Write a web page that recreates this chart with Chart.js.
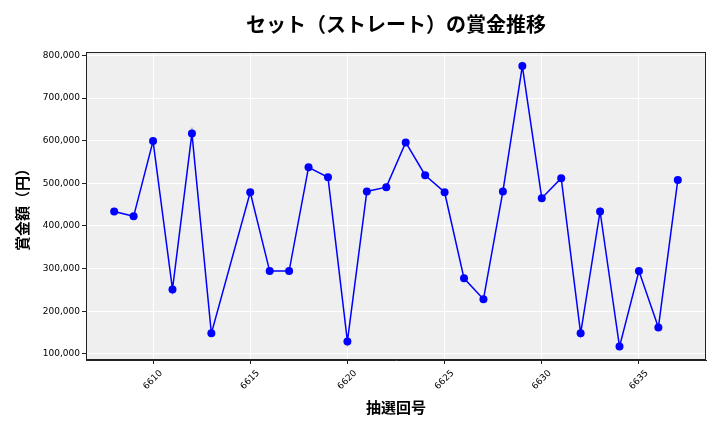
<!DOCTYPE html>
<html>
<head>
<meta charset="utf-8">
<script src="https://cdn.jsdelivr.net/npm/chart.js@4/dist/chart.umd.min.js"></script>
<style>
    html, body { margin: 0; padding: 0; background: #fff; }
    #wrap { width: 720px; height: 432px; }
</style>
</head>
<body>
<div id="wrap"><canvas id="prizeChart" width="720" height="432"></canvas></div>
<script>
// draw numbers (6614 is missing in the source)
var draws = [6608, 6609, 6610, 6611, 6612, 6613, 6615, 6616, 6617, 6618,
             6619, 6620, 6621, 6622, 6623, 6624, 6625, 6626, 6627, 6628,
             6629, 6630, 6631, 6632, 6633, 6634, 6635, 6636, 6637];
// prize per draw, yen
var prizes = [434000, 422500, 599000, 251000, 617000, 148000, 479000, 294000, 294000, 537500,
              514000, 129000, 481000, 491000, 596000, 519000, 479000, 277000, 228000, 481000,
              775000, 465000, 512000, 148000, 434000, 117000, 294000, 162000, 508000];
var xTickValues = [6610, 6615, 6620, 6625, 6630, 6635];
var yTickValues = [100000, 200000, 300000, 400000, 500000, 600000, 700000, 800000];

var tickFont = {family: "DejaVu Sans", size: 9};
var labelFont = {family: "Noto Sans CJK JP", size: 15, weight: "bold"};

var points = [];
for (var i = 0; i < draws.length; i++) {
    points.push({x: draws[i], y: prizes[i]});
}

function setTicks(values) {
    return function (scale) {
        scale.ticks = values.map(function (v) { return {value: v}; });
    };
}

// grey plot background and black frame like matplotlib
var plotFrame = {
    id: 'plotFrame',
    beforeDraw: function (chart) {
        var a = chart.chartArea;
        var ctx = chart.ctx;
        ctx.save();
        ctx.fillStyle = "#efefef";
        ctx.fillRect(a.left, a.top, a.right - a.left, a.bottom - a.top);
        ctx.restore();
    },
    afterDraw: function (chart) {
        var a = chart.chartArea;
        var ctx = chart.ctx;
        ctx.save();
        ctx.strokeStyle = "#222";
        ctx.lineWidth = 1;
        ctx.strokeRect(a.left + 0.5, a.top + 0.5, a.right - a.left - 1, a.bottom - a.top - 1);
        ctx.restore();
    }
};

var prizeChartElem = document.getElementById("prizeChart");
var prizeChart = new Chart(prizeChartElem, {
    type: 'line',
    data: {
        datasets: [
            {
                label: "賞金額",
                data: points,
                borderColor: "#0000ff",
                backgroundColor: "#0000ff",
                borderWidth: 1.5,
                pointRadius: 4,
                pointBackgroundColor: "#0000ff",
                pointBorderColor: "#0000ff",
                pointBorderWidth: 0,
                tension: 0,
                fill: false
            }
        ]
    },
    options: {
        responsive: false,
        animation: false,
        layout: {padding: {left: 0, right: 14, top: 0, bottom: 0}},
        plugins: {
            legend: {display: false},
            tooltip: {enabled: false},
            title: {
                display: true,
                fullSize: false,
                text: "セット（ストレート）の賞金推移",
                color: "#000",
                font: {family: "Noto Sans CJK JP", size: 20, weight: "bold"},
                padding: {top: 12, bottom: 16}
            }
        },
        scales: {
            x: {
                type: 'linear',
                min: 6606.55,
                max: 6638.45,
                afterBuildTicks: setTicks(xTickValues),
                afterFit: function (scale) { scale.height = 72; },
                border: {display: true, color: "#222"},
                grid: {color: "#ffffff", lineWidth: 1, tickLength: 4, tickColor: "#222"},
                ticks: {
                    maxRotation: 45,
                    minRotation: 45,
                    labelOffset: 8,
                    padding: 4,
                    color: "#000",
                    font: tickFont,
                    callback: function (value) { return String(value); }
                },
                title: {
                    display: true,
                    text: "抽選回号",
                    color: "#000",
                    font: labelFont,
                    padding: {top: 0, bottom: 16}
                }
            },
            y: {
                min: 85500,
                max: 808000,
                afterBuildTicks: setTicks(yTickValues),
                afterFit: function (scale) { scale.width = 86; },
                border: {display: true, color: "#222"},
                grid: {color: "#ffffff", lineWidth: 1, tickLength: 4, tickColor: "#222"},
                ticks: {
                    padding: 2,
                    color: "#000",
                    font: tickFont,
                    callback: function (value) { return value.toLocaleString('en-US'); }
                },
                title: {
                    display: true,
                    text: "賞金額（円）",
                    color: "#000",
                    font: labelFont,
                    padding: {top: 13, bottom: 0}
                }
            }
        }
    },
    plugins: [plotFrame]
});
</script>
</body>
</html>
